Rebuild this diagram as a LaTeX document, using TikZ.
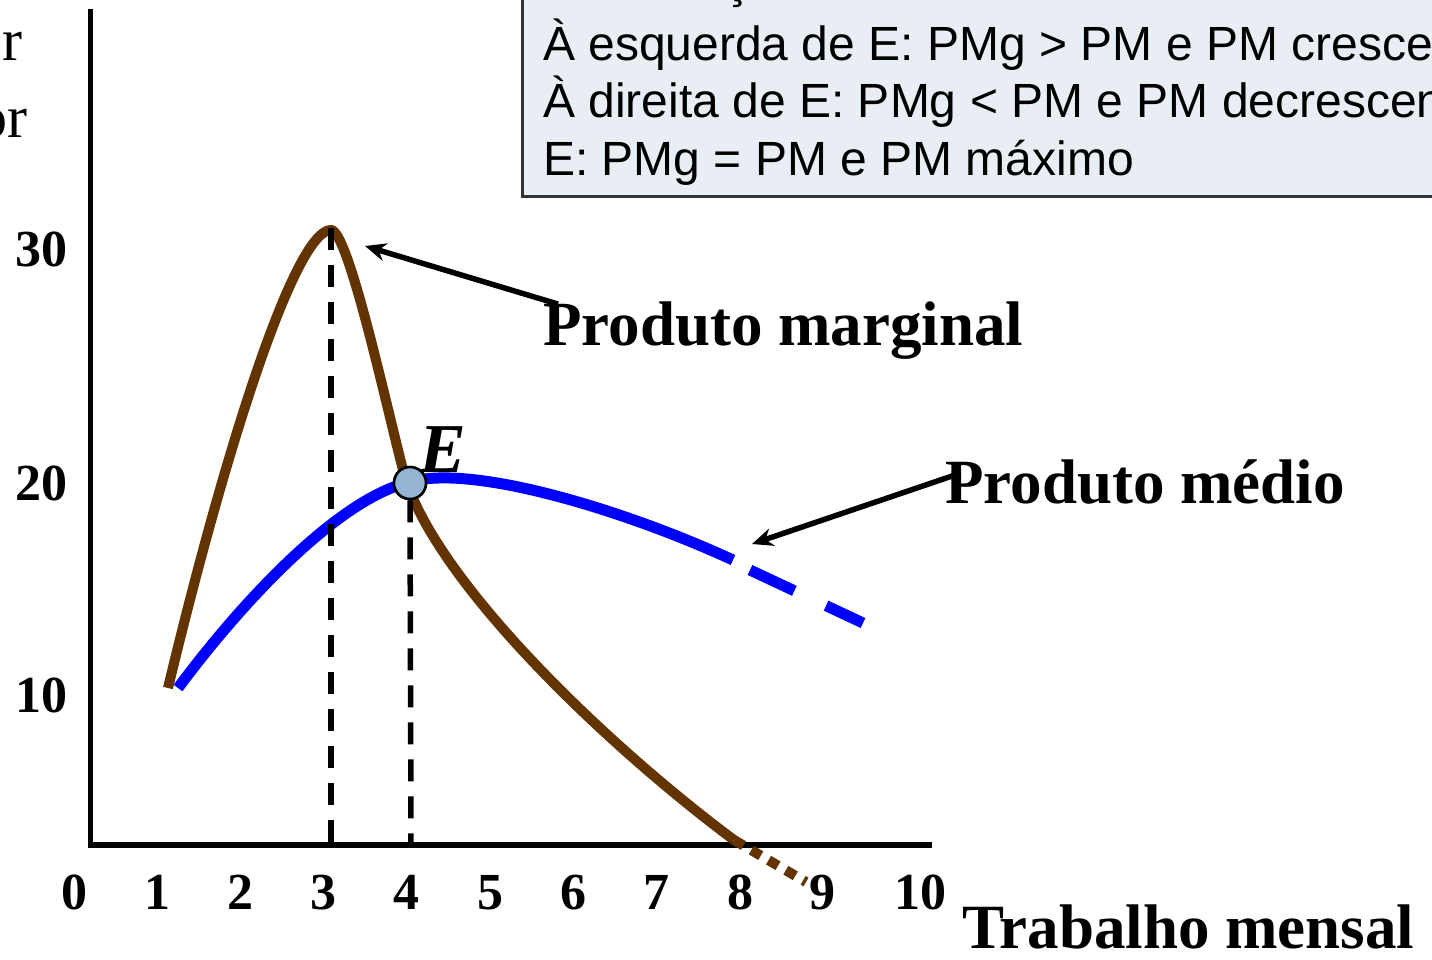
\documentclass[tikz,border=0pt]{standalone}
\usepackage{fontspec}
\setmainfont{Liberation Serif}
\newfontfamily\notefont{Liberation Sans}
\usetikzlibrary{arrows.meta}
\definecolor{pmgbrown}{RGB}{99,51,0}
\definecolor{boxfill}{RGB}{233,237,244}
\definecolor{boxline}{RGB}{51,51,51}
\definecolor{pointfill}{RGB}{147,180,210}
\tikzset{
  > = {Stealth[length=21pt,width=18pt]},
  axis line/.style = {line width=5.5pt},
  guide line/.style = {line width=5.5pt, dash pattern=on 22pt off 15pt},
  marginal curve/.style = {pmgbrown, line width=10pt},
  average curve/.style = {blue, line width=11pt},
  pointer/.style = {->, line width=5.5pt},
  tick label/.style = {inner sep=0pt, font=\fontsize{52}{60}\selectfont\bfseries},
  curve label/.style = {inner sep=0pt, anchor=base west, font=\fontsize{63}{70}\selectfont\bfseries},
  note line/.style = {inner sep=0pt, anchor=base west, font=\notefont\fontsize{48}{57}\selectfont},
}

\begin{document}
\begin{tikzpicture}[x=1pt, y=-1pt]

  %% frame of the picture
  \useasboundingbox (0,0) rectangle (1432,959);
  \clip (0,0) rectangle (1432,959);

  %% define coordinates
  \coordinate (origin) at (90.5,845);
  \coordinate (ytop) at (90.5,9);
  \coordinate (xend) at (932,845);
  \coordinate (peak) at (331,230);
  \coordinate (foot3) at (331,845);
  \coordinate (foot4) at (411,845);
  \coordinate (pmg tip) at (365,246);
  \coordinate (pm tip) at (752,544);

  % notes box
  \draw[boxline, fill=boxfill, line width=3pt] (522,-30) rectangle (1460,196);
  \node[note line] (obs0) at (543,-3) {Observações};
  \node[note line] (obs1) at (543,60) {À esquerda de E: PMg > PM e PM crescente};
  \node[note line] (obs2) at (543,117.5) {À direita de E: PMg < PM e PM decrescente};
  \node[note line] (obs3) at (543,175) {E: PMg = PM e PM máximo};

  % cut y axis title
  \node[inner sep=0pt, anchor=base east, font=\fontsize{60}{66}\selectfont] (ytitle1) at (23,60) {r};
  \node[inner sep=0pt, anchor=base east, font=\fontsize{60}{66}\selectfont] (ytitle2) at (28,137) {or};

  % draw axes
  \draw[axis line] (ytop) -- (origin) -- (xend);

  % tick labels
  \foreach \n/\px in {0/74,1/157,2/240,3/323,4/406,5/490,6/573,7/656,8/740,9/822,10/920}
    \node[tick label, anchor=base] (xtick\n) at (\px,909) {\n};
  \foreach \n/\py in {10/712,20/500,30/266}
    \node[tick label, anchor=base east] (ytick\n) at (68,\py) {\n};

  % draw average product
  \draw[average curve] (178,688) .. controls (245,598) and (340,498) .. (410,482)
    .. controls (470,464) and (620,508) .. (733,560);
  \draw[average curve, dash pattern=on 49pt off 35pt] (750,570) -- (863,623);

  % draw marginal product
  \draw[marginal curve] (168,688) .. controls (228,438) and (296,230) .. (peak)
    .. controls (348,230) and (385,400) .. (403,470)
    .. controls (430,575) and (600,740) .. (734,840);
  \draw[marginal curve, dash pattern=on 11pt off 9pt] (734,840) -- (806,882);

  % point E
  \node[circle, draw, fill=pointfill, line width=2.5pt, minimum size=32pt, inner sep=0pt] (E) at (410,483) {};
  \node[inner sep=0pt, anchor=base west, font=\fontsize{70}{76}\selectfont\bfseries\itshape] (Elabel) at (419,472) {E};

  % dashed guides
  \draw[guide line] ([yshift=2pt]peak) -- (foot3);
  \draw[guide line] (E.south) -- (foot4);
  \node[circle, draw, fill=pointfill, line width=2.5pt, minimum size=32pt, inner sep=0pt] at (E) {};

  % curve labels
  \node[curve label] (pmg) at (543,345) {Produto marginal};
  \node[curve label] (pm) at (945,503) {Produto médio};
  \node[curve label] (xtitle) at (962,948) {Trabalho mensal};

  % pointers
  \draw[pointer] ([shift={(15,3)}]pmg.north west) -- (pmg tip);
  \draw[pointer] ([shift={(10,16)}]pm.north west) -- (pm tip);
\end{tikzpicture}
\end{document}
